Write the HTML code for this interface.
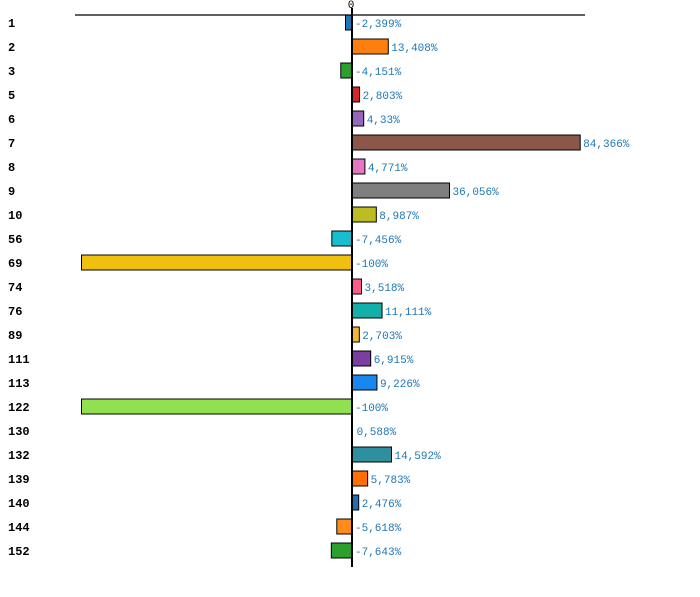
<!DOCTYPE html>
<html><head><meta charset="utf-8"><style>
body{margin:0;background:#fff;width:700px;height:597px;overflow:hidden}
svg{display:block}
.cat{font:bold 12px "Liberation Mono",monospace;fill:#000}
.val{font:11px "Liberation Mono",monospace;fill:#1f77b4}
</style></head><body>
<svg id="chart" width="700" height="597">
<g id="bars"></g>
<line x1="75" y1="15" x2="585" y2="15" stroke="#000" stroke-width="1.2"/>
<text x="351" y="8" text-anchor="middle" class="val" style="fill:#000">0</text>
</svg>
<script>
const categories=["1","2","3","5","6","7","8","9","10","56","69","74","76","89","111","113","122","130","132","139","140","144","152"];
const values=[-2.399,13.408,-4.151,2.803,4.33,84.366,4.771,36.056,8.987,-7.456,-100,3.518,11.111,2.703,6.915,9.226,-100,0.588,14.592,5.783,2.476,-5.618,-7.643];
const labels=["-2,399%","13,408%","-4,151%","2,803%","4,33%","84,366%","4,771%","36,056%","8,987%","-7,456%","-100%","3,518%","11,111%","2,703%","6,915%","9,226%","-100%","0,588%","14,592%","5,783%","2,476%","-5,618%","-7,643%"];
const colors=["#1f77b4","#ff7f0e","#2ca02c","#d62728","#9467bd","#8c564b","#e377c2","#7f7f7f","#bcbd22","#17becf","#f0c010","#ff5a8c","#12b0a8","#f5b53c","#7b3fa0","#1a87f0","#90e050","#ffffff","#2e8fa0","#ff7000","#1f6fb4","#ff8c1a","#2ca02c"];
const NS="http://www.w3.org/2000/svg";
const x=v=>352+v*2.705;
const y=i=>15+i*24;
const g=document.getElementById('bars');
categories.forEach((c,i)=>{
  const t=document.createElementNS(NS,'text');
  
  
  t.setAttribute('x',8);t.setAttribute('y',y(i)+12);t.setAttribute('class','cat');t.textContent=c;g.appendChild(t);
  const v=values[i];const x0=Math.min(x(0),x(v)),w=Math.abs(x(v)-x(0));
  if(Math.abs(v)>=1){
    const r=document.createElementNS(NS,'rect');
    
    
    r.setAttribute('x',x0);r.setAttribute('y',y(i));r.setAttribute('width',w);r.setAttribute('height',15);
    r.setAttribute('fill',colors[i]);r.setAttribute('stroke','#000');r.setAttribute('stroke-width','1');g.appendChild(r);
  }
  const l=document.createElementNS(NS,'text');
  
  
  l.setAttribute('x',v>0?x(v)+3:355);l.setAttribute('y',y(i)+12);l.setAttribute('class','val');l.textContent=labels[i];g.appendChild(l);
});
const zl=document.createElementNS(NS,'line');


zl.setAttribute('x1',352);zl.setAttribute('x2',352);zl.setAttribute('y1',8);zl.setAttribute('y2',567);
zl.setAttribute('stroke','#000');zl.setAttribute('stroke-width','2');
document.getElementById('chart').appendChild(zl);
</script>
</body></html>
